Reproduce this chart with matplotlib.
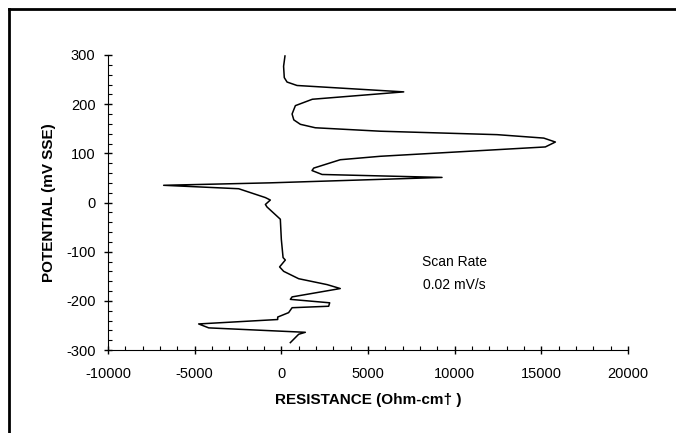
import matplotlib
matplotlib.use('Agg')
import matplotlib.pyplot as plt
from matplotlib.lines import Line2D
from matplotlib.ticker import MultipleLocator

plt.rcParams['font.family'] = ['Liberation Sans', 'DejaVu Sans']
plt.rcParams['axes.unicode_minus'] = False

# resistance (Ohm-cm) vs potential (mV SSE), in scan order
resistance = [210, 130, 170, 330, 905, 7060, 1790, 810, 620, 720, 1100, 1960,
              5710, 12450, 15140, 15810, 15230, 5710, 3400, 1870, 1770, 2350,
              9270, -630, -6790, -2460, -920, -635, -920, -830, -58, 0, 100,
              230, -100, 135, 1000, 2640, 3400, 620, 520, 2790, 2730, 620,
              420, -210, -210, -4770, -4190, 1385, 1000, 520]
potential = [298, 277, 254, 245, 238, 225, 210, 197, 180, 168, 159, 152,
             145, 138, 131, 123, 113, 94, 87, 70, 65, 57,
             51, 40, 35, 28, 10, 5, -4, -9, -34, -75, -112,
             -117, -131, -140, -155, -167, -175, -192, -197, -204, -211, -214,
             -224, -233, -238, -247, -255, -264, -268, -285]

fig = plt.figure(figsize=(6.76, 4.33), dpi=100)
ax = fig.add_axes([108/676, 1-350/433, 520/676, 295/433])

ax.plot(resistance, potential, color='black', linewidth=1.1)

ax.set_xlim(-10000, 20000)
ax.set_ylim(-300, 300)
ax.xaxis.set_major_locator(MultipleLocator(5000))
ax.xaxis.set_minor_locator(MultipleLocator(1000))
ax.yaxis.set_major_locator(MultipleLocator(100))
ax.yaxis.set_minor_locator(MultipleLocator(20))
ax.tick_params(which='major', direction='inout', length=6, width=1, labelsize=10.5)
ax.tick_params(which='minor', direction='in', length=3, width=0.8)
ax.tick_params(axis='x', pad=9)
ax.tick_params(axis='y', pad=6)
for s in ['top', 'right']:
    ax.spines[s].set_visible(False)

ax.set_xlabel('RESISTANCE (Ohm-cm\u2020 )', fontsize=11, fontweight='bold', labelpad=9)
ax.set_ylabel('POTENTIAL (mV SSE)', fontsize=11, fontweight='bold', labelpad=7)

ax.text(10000, -122, 'Scan Rate', ha='center', va='center', fontsize=10)
ax.text(10000, -167, '0.02 mV/s', ha='center', va='center', fontsize=10)

# outer frame (top and left edges)
fig.add_artist(Line2D([9/676, 1], [1-9/433, 1-9/433], color='black', linewidth=2))
fig.add_artist(Line2D([9/676, 9/676], [0, 1-9/433], color='black', linewidth=2))

fig.savefig('out.png', dpi=100)
